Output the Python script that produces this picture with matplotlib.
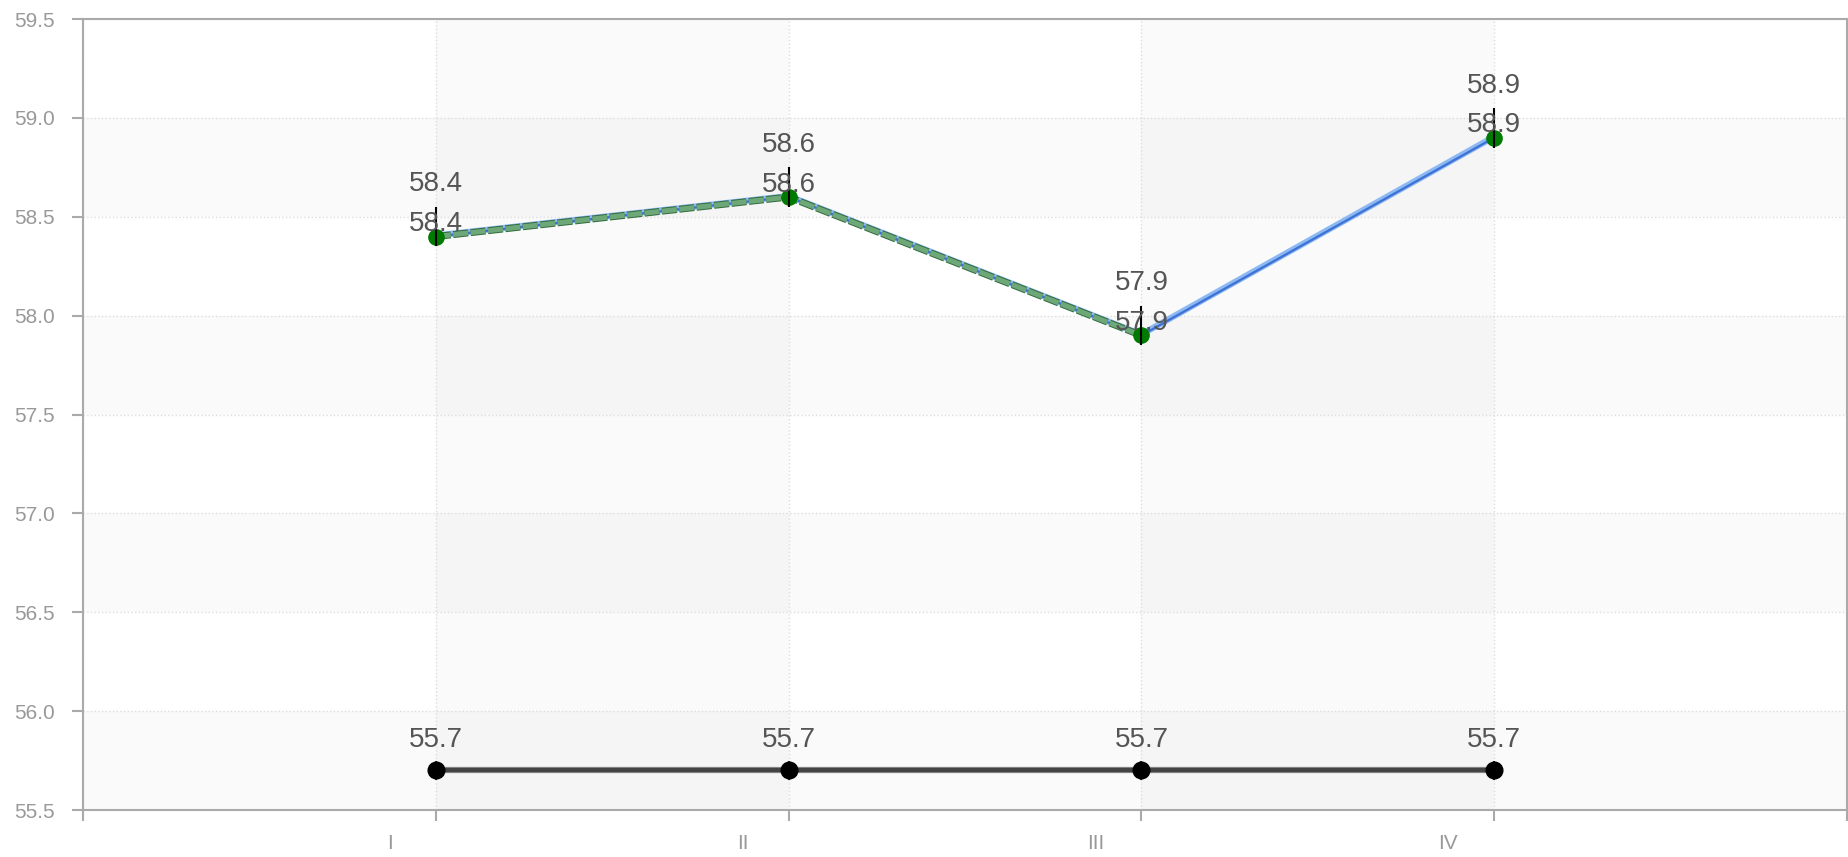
import matplotlib
matplotlib.use("Agg")
import matplotlib.pyplot as plt
import matplotlib.patheffects as pe
from matplotlib.transforms import ScaledTranslation

plt.rcParams['font.family'] = ['Liberation Sans', 'DejaVu Sans']

# data
categories = ["I", "II", "III", "IV"]
x_pos = [1, 2, 3, 4]
blue_vals = [58.4, 58.6, 57.9, 58.9]
green_vals = [58.4, 58.6, 57.9]
base_vals = [55.7, 55.7, 55.7, 55.7]
err_low = [0.05, 0.05, 0.05, 0.05]
err_high = [0.15, 0.15, 0.15, 0.15]
y_ticks = [55.5, 56.0, 56.5, 57.0, 57.5, 58.0, 58.5, 59.0, 59.5]

fig = plt.figure(figsize=(18.49, 8.57), dpi=100)
ax = fig.add_axes([0.0449, 0.0548, 0.954, 0.923])

# banded background
for lo in [55.5, 56.5, 57.5, 58.5]:
    ax.axhspan(lo, lo + 0.5, color="black", alpha=0.02, lw=0, zorder=0)
for lo in [1, 3]:
    ax.axvspan(lo, lo + 1, color="black", alpha=0.02, lw=0, zorder=0)

ax.grid(True, color="#dddddd", linestyle=":", linewidth=1.0, zorder=1)

# error ticks
ax.errorbar(x_pos, blue_vals, yerr=[err_low, err_high], fmt="none",
            ecolor="black", elinewidth=1.5, capsize=0, zorder=6)
ax.errorbar(x_pos, base_vals, yerr=[err_low, err_low], fmt="none",
            ecolor="black", elinewidth=1.2, capsize=0, zorder=6)

# blue series
ax.plot(x_pos, blue_vals, color="#3d72d4", lw=1.6, zorder=3,
        path_effects=[pe.Stroke(linewidth=4.5, foreground="#8cb8f4", offset=(0, 0.7)), pe.Normal()])

# green dashed series
ax.plot(x_pos[:3], green_vals, color="#6fa878", lw=3.6, linestyle=(0, (3.0, 0.5)),
        zorder=4, dash_capstyle="butt",
        path_effects=[pe.Stroke(linewidth=5.0, foreground="#2f6b3d"), pe.Normal()])

# markers
ax.plot(x_pos, blue_vals, "o", color="#007a00", ms=11, zorder=5)

# baseline series
ax.plot(x_pos, base_vals, color="#444444", lw=3, zorder=3,
        path_effects=[pe.Stroke(linewidth=4.5, foreground="#888888"), pe.Normal()])
ax.plot(x_pos, base_vals, "o", color="black", ms=12, zorder=5)

# value labels
for x, y in zip(x_pos, blue_vals):
    ax.annotate(f"{y:.1f}", (x, y), xytext=(0, 9), textcoords="offset points",
                ha="center", va="center", fontsize=20, color="#555555", zorder=7)
    ax.annotate(f"{y:.1f}", (x, y), xytext=(0, 37.5), textcoords="offset points",
                ha="center", va="center", fontsize=20, color="#555555", zorder=7)
for x, y in zip(x_pos, base_vals):
    ax.annotate(f"{y:.1f}", (x, y), xytext=(0, 22), textcoords="offset points",
                ha="center", va="center", fontsize=20, color="#555555", zorder=7)

ax.set_xlim(0, 5)
ax.set_ylim(55.5, 59.5)
ax.set_xticks([0, 1, 2, 3, 4, 5])
ax.set_xticklabels([""] + categories + [""])
ax.set_yticks(y_ticks)
ax.set_yticklabels([f"{v:.1f}" for v in y_ticks])

ax.tick_params(axis="x", colors="#aaaaaa", labelcolor="#999999", length=8, width=1.5,
               labelsize=15, pad=9)
ax.tick_params(axis="y", colors="#aaaaaa", labelcolor="#999999", length=8, width=1.5,
               labelsize=15, pad=12)
shift = ScaledTranslation(-0.46, 0, fig.dpi_scale_trans)
for lab in ax.get_xticklabels():
    lab.set_transform(lab.get_transform() + shift)

for s in ax.spines.values():
    s.set_color("#aaaaaa")
    s.set_linewidth(1.5)

fig.savefig("out.png", dpi=100)
